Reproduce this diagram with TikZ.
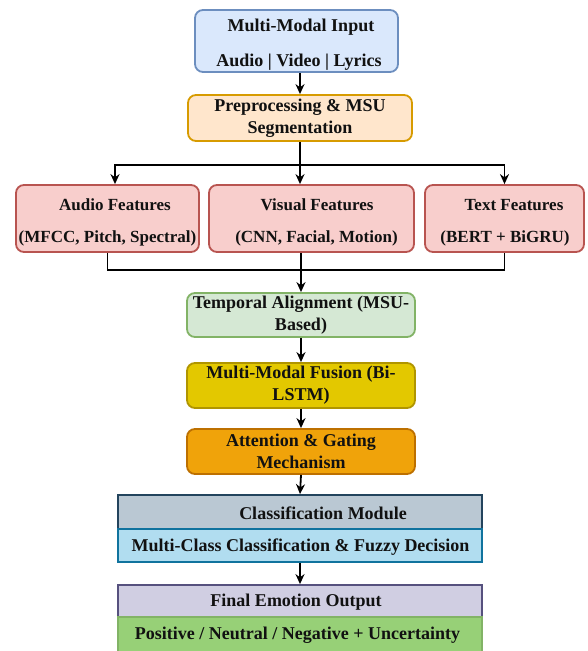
\documentclass[tikz,border=0pt]{standalone}
\usepackage{fontspec}
\setmainfont{Liberation Serif}
\usetikzlibrary{arrows.meta}
\definecolor{inF}{HTML}{DAE8FC}\definecolor{inS}{HTML}{6C8EBF}
\definecolor{prF}{HTML}{FFE6CC}\definecolor{prS}{HTML}{D79B00}
\definecolor{feF}{HTML}{F8CECC}\definecolor{feS}{HTML}{B85450}
\definecolor{tmF}{HTML}{D5E8D4}\definecolor{tmS}{HTML}{82B366}
\definecolor{fuF}{HTML}{E3C800}\definecolor{fuS}{HTML}{B09500}
\definecolor{atF}{HTML}{F0A30A}\definecolor{atS}{HTML}{BD7000}
\definecolor{clF}{HTML}{BAC8D3}\definecolor{clS}{HTML}{23445D}
\definecolor{cbF}{HTML}{B1DDF0}\definecolor{cbS}{HTML}{10739E}
\definecolor{fiF}{HTML}{D0CEE2}\definecolor{fiS}{HTML}{56517E}
\definecolor{fgF}{HTML}{97D077}\definecolor{fgS}{HTML}{82B366}
\definecolor{ink}{HTML}{111111}
\begin{document}
\begin{tikzpicture}[x=1pt,y=-1pt,
  rbox/.style={draw, rounded corners=8pt, line width=1.8pt, inner sep=0pt, align=center,
    font=\bfseries\fontsize{18}{22}\selectfont, text=ink},
  sbox/.style={draw, line width=1.8pt, inner sep=0pt},
  lbl/.style={font=\bfseries\fontsize{18}{22}\selectfont, text=ink, inner sep=0pt},
  flbl/.style={font=\bfseries\fontsize{17}{20}\selectfont, text=ink, inner sep=0pt},
  conn/.style={line width=1.8pt, black},
  arr/.style={conn, -{Stealth[length=10pt,width=9pt]}}]
\useasboundingbox (0,0) rectangle (588,651);

% boxes
\node[rbox, fill=inF, draw=inS, minimum width=203pt, minimum height=62pt] (inp) at (296.5,41) {};
\node[lbl] (inpT) at (301,27) {Multi-Modal Input};
\node[lbl] (inpS) at (299,62) {Audio | Video | Lyrics};

\node[rbox, fill=prF, draw=prS, minimum width=224pt, minimum height=46pt] (pre) at (300,118) {Preprocessing \& MSU\\Segmentation};

\node[rbox, fill=feF, draw=feS, minimum width=183pt, minimum height=67pt] (aud) at (107.5,218.5) {};
\node[flbl] (audT) at (115,205) {Audio Features};
\node[flbl] (audS) at (107.5,238) {(MFCC, Pitch, Spectral)};

\node[rbox, fill=feF, draw=feS, minimum width=205pt, minimum height=67pt] (vis) at (311.5,218.5) {};
\node[flbl] (visT) at (317,205) {Visual Features};
\node[flbl] (visS) at (316.5,238) {(CNN, Facial, Motion)};

\node[rbox, fill=feF, draw=feS, minimum width=159pt, minimum height=67pt] (txt) at (504.5,218.5) {};
\node[flbl] (txtT) at (514,205) {Text Features};
\node[flbl] (txtS) at (505,238) {(BERT + BiGRU)};

\node[rbox, fill=tmF, draw=tmS, minimum width=228pt, minimum height=44pt] (tmp) at (301,315) {Temporal Alignment (MSU-\\Based)};
\node[rbox, fill=fuF, draw=fuS, minimum width=228pt, minimum height=45pt] (fus) at (301,385.5) {Multi-Modal Fusion (Bi-\\LSTM)};
\node[rbox, fill=atF, draw=atS, minimum width=228pt, minimum height=45pt] (att) at (301,451.5) {Attention \& Gating\\Mechanism};

\node[sbox, fill=clF, draw=clS, minimum width=364pt, minimum height=34pt] (cls) at (300,512) {};
\node[sbox, fill=cbF, draw=cbS, minimum width=364pt, minimum height=33pt] (cls2) at (300,545.5) {};
\node[lbl] (clsT) at (323,513) {Classification Module};
\node[lbl] (clsS) at (300.5,547) {Multi-Class Classification \& Fuzzy Decision};

\node[sbox, fill=fiF, draw=fiS, minimum width=364pt, minimum height=32pt] (fin) at (300,601) {};
\node[sbox, fill=fgF, draw=fgS, minimum width=364pt, minimum height=36pt] (fin2) at (300,635) {};
\node[lbl] (finT) at (296,602) {Final Emotion Output};
\node[lbl] (finS) at (297.5,635) {Positive / Neutral / Negative + Uncertainty};

% connectors
\draw[arr] (inp.south -| pre.north) -- (pre.north);
\coordinate (sp) at (300,165);
\draw[conn] (pre.south) -- (sp);
\draw[arr] (sp) -| ([xshift=7.5pt]aud.north);
\draw[arr] (sp) -| (txt.north);
\draw[arr] (sp) -- (sp |- vis.north);
\coordinate (mg) at (301,270);
\draw[conn] (aud.south) |- (txt.south |- mg) -- (txt.south);
\draw[arr] (vis.south -| mg) -- (tmp.north -| mg);
\draw[arr] (tmp.south) -- (fus.north);
\draw[arr] (fus.south) -- (att.north);
\draw[arr] (att.south) -- (cls.north);
\draw[arr] (cls2.south) -- (fin.north);
\end{tikzpicture}
\end{document}
